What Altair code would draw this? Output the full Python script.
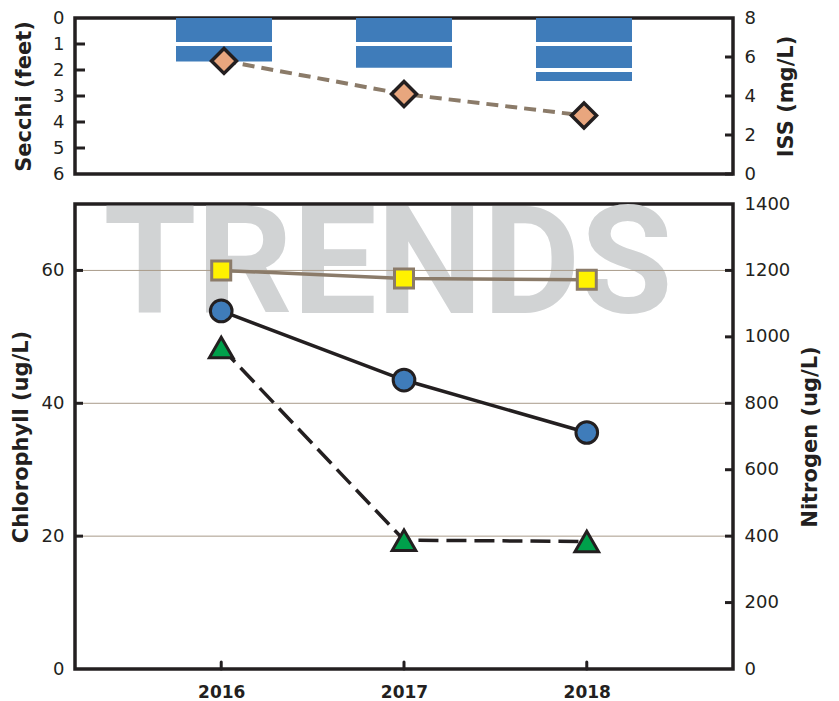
import altair as alt
import pandas as pd

# ---------------- data ----------------
years = [2016, 2017, 2018]
secchi_ft = [1.67, 1.91, 2.42]        # blue bars (top, left axis, inverted)
iss_mgl = [5.8, 4.1, 3.0]             # peach diamonds (top, right axis)
phosphorus = [53.9, 43.5, 35.6]       # blue circles (bottom, left axis)
chlorophyll = [48.4, 19.4, 19.2]      # green triangles (bottom, left axis)
nitrogen = [1200, 1176, 1172]         # yellow squares (bottom, right axis)

secchi_ticks = [0, 1, 2, 3, 4, 5, 6]
iss_ticks = [0, 2, 4, 6, 8]
chl_ticks = [0, 20, 40, 60]
tn_ticks = [0, 200, 400, 600, 800, 1000, 1200, 1400]
watermark = ["TRENDS"]

# ---------------- styles ----------------
INK = "#231f20"
BLUE = "#3f7cba"
PEACH = "#e8a67e"
TAN = "#8b7b69"
YELLOW = "#fff200"
GREEN = "#00a04b"
GRID = "#a99b8a"
WM = "#d1d3d4"

W = 658
H_TOP = 156
H_BOT = 465

top_df = pd.DataFrame({"year": years, "secchi": secchi_ft, "iss": iss_mgl})
sep_rows = []
for y, s in zip(years, secchi_ft):
    for d in secchi_ticks:
        if 0 < d < s:
            sep_rows.append({"year": y, "depth": d})
sep_df = pd.DataFrame(sep_rows)
bot_df = pd.DataFrame({"year": years, "phos": phosphorus, "chl": chlorophyll, "tn": nitrogen})


def xs():
    return alt.Scale(domain=[2015.2, 2018.8], nice=False, zero=False)


def secchi_scale():
    return alt.Scale(domain=[0, 6], reverse=True, nice=False, zero=False)


def iss_scale():
    return alt.Scale(domain=[0, 8], nice=False)


def chl_scale():
    return alt.Scale(domain=[0, 70], nice=False)


def tn_scale():
    return alt.Scale(domain=[0, 1400], nice=False)


XN = alt.X("year:Q", scale=xs(), axis=None)
# identical x axis definition on every bottom layer so the shared axis merges cleanly
XB = alt.X("year:Q", scale=xs(),
           axis=alt.Axis(values=years, format="d", title=None, labelFontWeight="bold",
                         labelFontSize=17, labelPadding=15))

# ---------------- top panel ----------------
bars = alt.Chart(top_df).mark_bar(size=96, color=BLUE, orient="vertical").encode(
    x=XN,
    y=alt.Y("secchi:Q", scale=secchi_scale(), stack=None,
            axis=alt.Axis(values=secchi_ticks, title="Secchi (feet)", titlePadding=18)),
)
seps = alt.Chart(sep_df).mark_tick(orient="horizontal", size=96, thickness=4,
                                   color="white", opacity=1).encode(
    x=XN,
    y=alt.Y("depth:Q", scale=secchi_scale(), axis=None),
)
lt_top = alt.Chart(pd.DataFrame({"v": [t for t in secchi_ticks if 0 < t < 6]})).mark_rule(
    color=INK, strokeWidth=3).encode(
    y=alt.Y("v:Q", scale=secchi_scale(), axis=None), x=alt.value(0), x2=alt.value(10))

iss_line = alt.Chart(top_df).mark_line(color=TAN, strokeWidth=4, strokeDash=[12, 7]).encode(
    x=XN,
    y=alt.Y("iss:Q", scale=iss_scale(),
            axis=alt.Axis(values=iss_ticks, orient="right", title="ISS (mg/L)",
                          titleAngle=270, titleBaseline="top", titlePadding=20)),
)
iss_pts = alt.Chart(top_df).mark_point(shape="diamond", filled=True, size=625, fill=PEACH,
                                       stroke=INK, strokeWidth=3.5, opacity=1).encode(
    x=XN,
    y=alt.Y("iss:Q", scale=iss_scale(), axis=None),
)
rt_top = alt.Chart(pd.DataFrame({"v": [t for t in iss_ticks if t < 8]})).mark_rule(
    color=INK, strokeWidth=3).encode(
    y=alt.Y("v:Q", scale=iss_scale(), axis=None), x=alt.value(W - 8), x2=alt.value(W))

top = alt.layer(bars, seps, lt_top, iss_line, iss_pts, rt_top).resolve_scale(
    y="independent").properties(width=W, height=H_TOP)

# ---------------- bottom panel ----------------
wm = alt.Chart(pd.DataFrame({"label": watermark})).mark_text(
    font="Roboto", fontWeight="bold", fontSize=150, color=WM, align="center",
    baseline="alphabetic").encode(x=alt.value(313), y=alt.value(109), text="label:N")
grid = alt.Chart(pd.DataFrame({"v": [t for t in chl_ticks if t > 0]})).mark_rule(
    color=GRID, strokeWidth=1).encode(y=alt.Y("v:Q", scale=chl_scale(), axis=None))
lt_bot = alt.Chart(pd.DataFrame({"v": [t for t in chl_ticks if t > 0]})).mark_rule(
    color=INK, strokeWidth=3).encode(
    y=alt.Y("v:Q", scale=chl_scale(), axis=None), x=alt.value(0), x2=alt.value(8))
xt_bot = alt.Chart(pd.DataFrame({"year": years})).mark_rule(
    color=INK, strokeWidth=3, strokeCap="round").encode(
    x=XB, y=alt.value(H_BOT - 7), y2=alt.value(H_BOT))

phos_line = alt.Chart(bot_df).mark_line(color=INK, strokeWidth=3.5).encode(
    x=XB,
    y=alt.Y("phos:Q", scale=chl_scale(),
            axis=alt.Axis(values=chl_ticks, title="Chlorophyll (ug/L)", titlePadding=10)),
)
chl_line = alt.Chart(bot_df).mark_line(color=INK, strokeWidth=3.5, strokeDash=[20, 8]).encode(
    x=XB,
    y=alt.Y("chl:Q", scale=chl_scale(), axis=None),
)
phos_pts = alt.Chart(bot_df).mark_point(shape="circle", filled=True, size=470, fill=BLUE,
                                        stroke=INK, strokeWidth=3, opacity=1).encode(
    x=XB,
    y=alt.Y("phos:Q", scale=chl_scale(), axis=None),
)
chl_pts = alt.Chart(bot_df).mark_point(shape="triangle-up", filled=True, size=560, fill=GREEN,
                                       stroke=INK, strokeWidth=3, opacity=1).encode(
    x=XB,
    y=alt.Y("chl:Q", scale=chl_scale(), axis=None),
)

tn_line = alt.Chart(bot_df).mark_line(color=TAN, strokeWidth=3.5).encode(
    x=XB,
    y=alt.Y("tn:Q", scale=tn_scale(),
            axis=alt.Axis(values=tn_ticks, format="d", orient="right", title="Nitrogen (ug/L)",
                          titleAngle=270, titleBaseline="top", titlePadding=10)),
)
tn_pts = alt.Chart(bot_df).mark_point(shape="square", filled=True, size=361, fill=YELLOW,
                                      stroke=TAN, strokeWidth=3, opacity=1).encode(
    x=XB,
    y=alt.Y("tn:Q", scale=tn_scale(), axis=None),
)
rt_bot = alt.Chart(pd.DataFrame({"v": [t for t in tn_ticks if 0 < t < 1400]})).mark_rule(
    color=INK, strokeWidth=3).encode(
    y=alt.Y("v:Q", scale=tn_scale(), axis=None), x=alt.value(W - 8), x2=alt.value(W))

bottom = alt.layer(
    wm, grid, lt_bot, xt_bot, chl_line, phos_line, phos_pts, chl_pts,
    tn_line, tn_pts, rt_bot,
).resolve_scale(y="independent").properties(width=W, height=H_BOT)

chart = alt.vconcat(top, bottom, spacing=6).properties(
    padding={"left": 0, "top": -1, "right": 0, "bottom": 0}
).configure_view(stroke=INK, strokeWidth=3.5).configure_axis(
    domain=False, ticks=False, tickSize=0, grid=False,
    labelFont="DejaVu Sans", labelFontSize=18, labelColor=INK, labelPadding=11,
    titleFont="DejaVu Sans", titleFontSize=21, titleFontWeight="bold", titleColor=INK,
)

chart.save("out.html", embed_options={"renderer": "svg", "actions": False})
